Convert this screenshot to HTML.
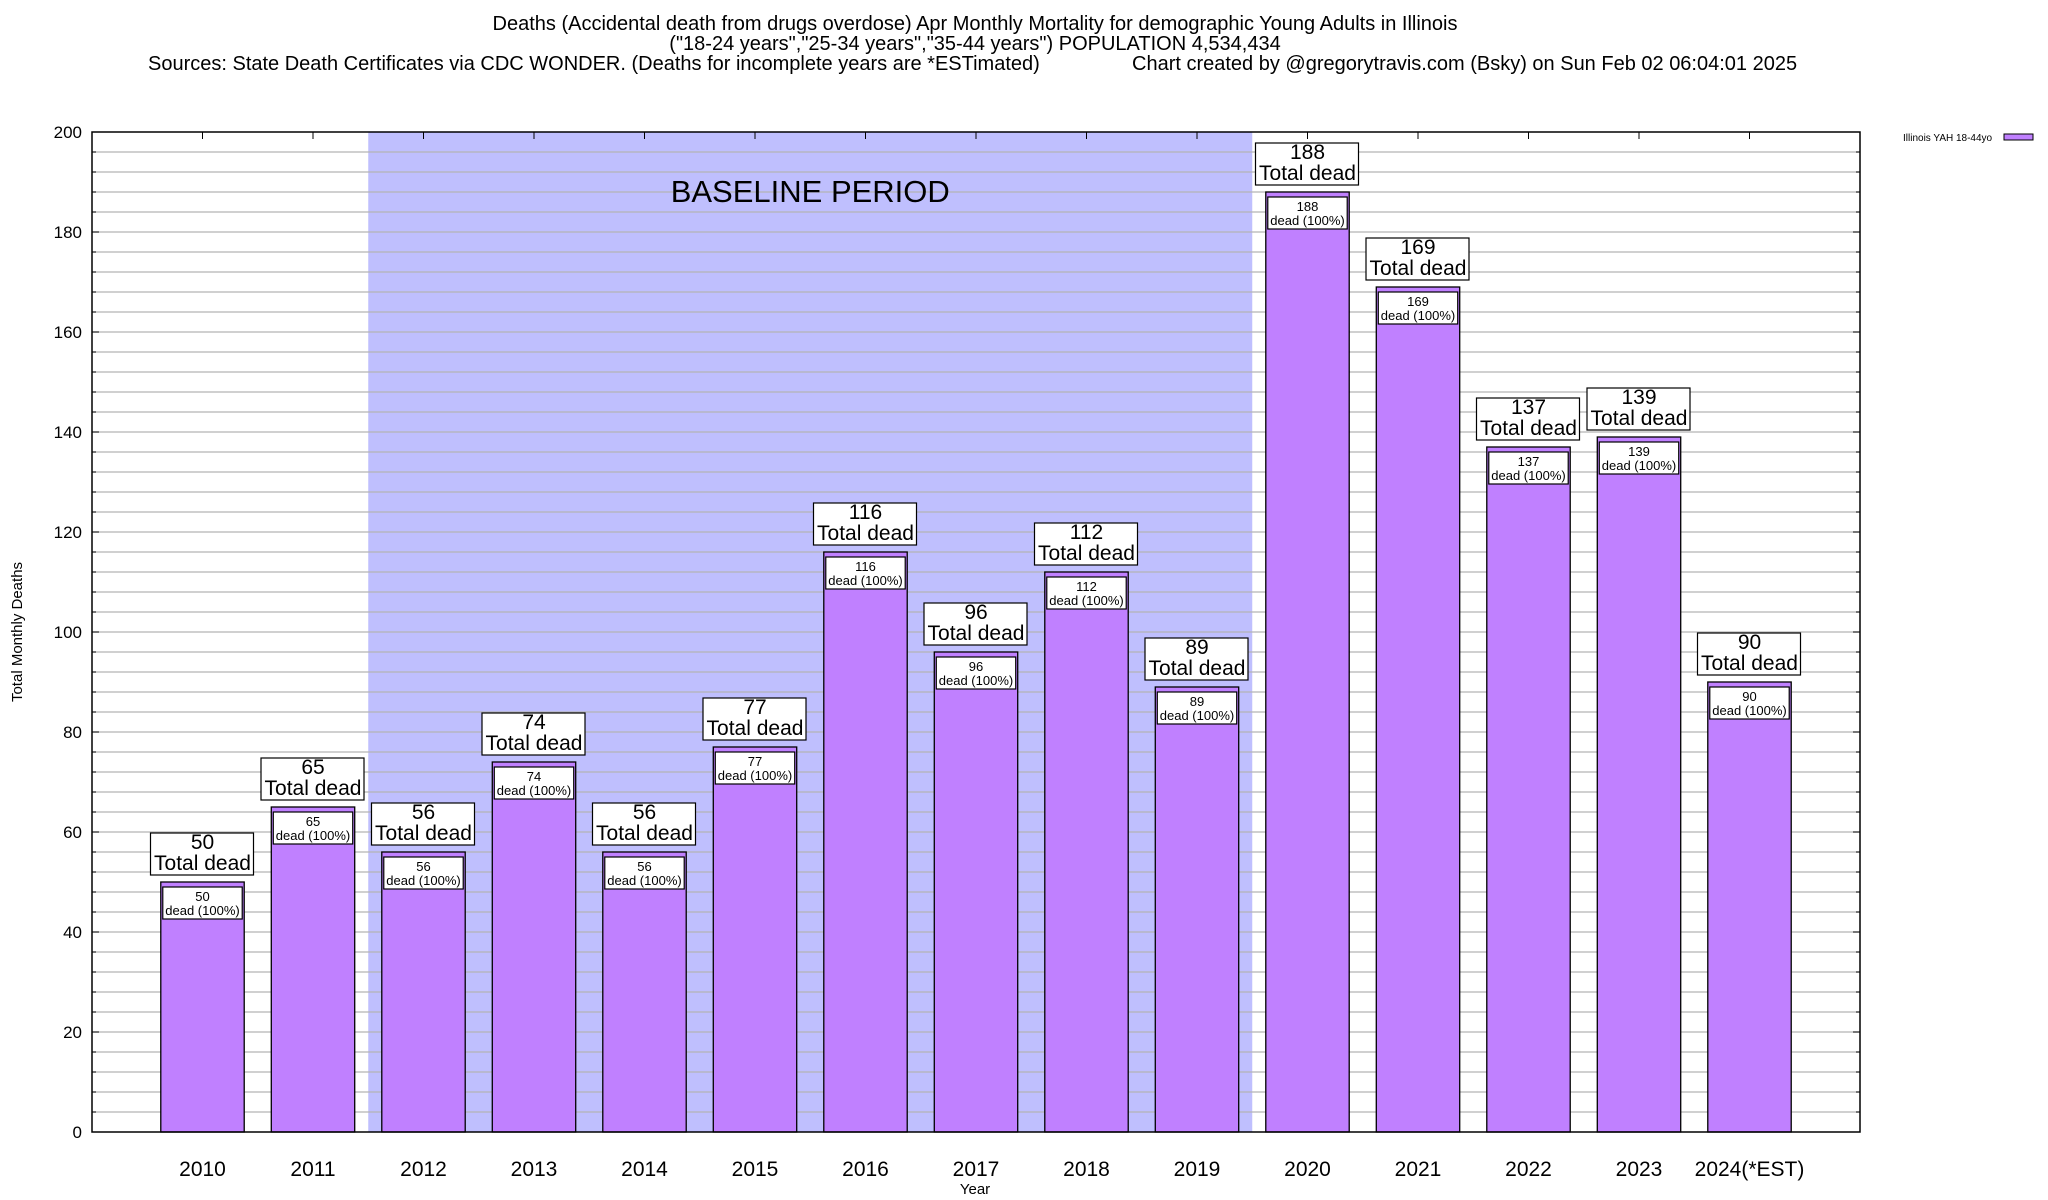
<!DOCTYPE html>
<html><head><meta charset="utf-8"><style>
html,body{margin:0;padding:0;background:#fff;}
svg{display:block;font-family:"Liberation Sans",Arial,sans-serif;}
</style></head><body>
<svg id="chart" width="2048" height="1200" viewBox="0 0 2048 1200" xmlns="http://www.w3.org/2000/svg">
<g font-size="20" fill="#000">
<text x="975" y="30" text-anchor="middle">Deaths (Accidental death from drugs overdose) Apr Monthly Mortality for demographic Young Adults in Illinois</text>
<text x="975" y="50" text-anchor="middle">("18-24 years","25-34 years","35-44 years") POPULATION 4,534,434</text>
<text x="148" y="70">Sources: State Death Certificates via CDC WONDER. (Deaths for incomplete years are *ESTimated)</text>
<text x="1132" y="70">Chart created by @gregorytravis.com (Bsky) on Sun Feb 02 06:04:01 2025</text>
</g>
<g id="plot"></g>
</svg>
<script>
const categories = ["2010","2011","2012","2013","2014","2015","2016","2017","2018","2019","2020","2021","2022","2023","2024(*EST)"];
const deaths = [50,65,56,74,56,77,116,96,112,89,188,169,137,139,90];
const yTicks = [0,20,40,60,80,100,120,140,160,180,200];
const baselineRange = [1.5, 9.5];

const L=92,R=1860,T=132,B=1132;
const yMax=200;
const xs = i => L + (R-L)*(i+1)/(categories.length+1);
const ys = v => B - (B-T)*v/yMax;
const slot = (R-L)/(categories.length+1);
const barW = slot*0.755;
const NS="http://www.w3.org/2000/svg";
const g=document.getElementById('plot');
function mk(tag,attrs,parent){const e=document.createElementNS(NS,tag);for(const k in attrs)e.setAttribute(k,attrs[k]);(parent||g).appendChild(e);return e;}

const bx0 = L+(R-L)*(baselineRange[0]+1)/(categories.length+1);
const bx1 = L+(R-L)*(baselineRange[1]+1)/(categories.length+1);
const shade=mk('rect',{x:bx0,y:T,width:bx1-bx0,height:B-T,fill:'#bfbffe'});



for(let v=4;v<yMax;v+=4){
  const ln=mk('line',{x1:L,x2:R,y1:ys(v),y2:ys(v),stroke:'#b4b4b4','stroke-width':1.2});
  
  
  const tl=mk('line',{x1:L,x2:L+(v%20===0?7:4),y1:ys(v),y2:ys(v),stroke:'#000'});
  
  
  const tr=mk('line',{x1:R,x2:R-(v%20===0?7:4),y1:ys(v),y2:ys(v),stroke:'#000'});
  
  
}
const bt=mk('text',{x:(bx0+bx1)/2,y:202,'text-anchor':'middle','font-size':31});
bt.textContent='BASELINE PERIOD';



yTicks.forEach(v=>{
  const t=mk('text',{x:82,y:ys(v)+6,'text-anchor':'end','font-size':17});
  t.textContent=v;
  
  
});

categories.forEach((c,i)=>{
  const cx=xs(i), v=deaths[i], top=ys(v);
  const bar=mk('rect',{x:cx-barW/2,y:top,width:barW,height:B-top,fill:'#c080ff',stroke:'#000','stroke-width':1.3});
  
  
  const ib=mk('rect',{x:cx-barW/2+2,y:top+5,width:barW-4,height:32,fill:'#fff',stroke:'#000','stroke-width':1.2});
  
  
  const t1=mk('text',{x:cx,y:top+19,'text-anchor':'middle','font-size':13});
  t1.textContent=v;
  
  
  const t2=mk('text',{x:cx,y:top+33,'text-anchor':'middle','font-size':13});
  t2.textContent='dead (100%)';
  
  
  const ob=mk('rect',{x:cx-52,y:top-49,width:103,height:42,fill:'#fff',stroke:'#000','stroke-width':1.2});
  
  
  const o1=mk('text',{x:cx,y:top-33,'text-anchor':'middle','font-size':21});
  o1.textContent=v;
  
  
  const o2=mk('text',{x:cx,y:top-12,'text-anchor':'middle','font-size':21});
  o2.textContent='Total dead';
  
  
  const xt=mk('text',{x:cx,y:1176,'text-anchor':'middle','font-size':21});
  xt.textContent=c;
  
  
  const tt=mk('line',{x1:cx,x2:cx,y1:T,y2:T+7,stroke:'#000'});
  
  
});

const fr=mk('rect',{x:L,y:T,width:R-L,height:B-T,fill:'none',stroke:'#000','stroke-width':1.5});



const xa=mk('text',{x:975,y:1194,'text-anchor':'middle','font-size':15});
xa.textContent='Year';


const ya=mk('text',{x:0,y:0,'text-anchor':'middle','font-size':15,transform:'translate(22,632) rotate(-90)'});
ya.textContent='Total Monthly Deaths';



const lg=mk('text',{x:1903,y:141,'font-size':10});
lg.textContent='Illinois YAH 18-44yo';


const ls=mk('rect',{x:2004,y:134,width:29,height:6,fill:'#c080ff',stroke:'#000','stroke-width':1});


</script>
</body></html>
